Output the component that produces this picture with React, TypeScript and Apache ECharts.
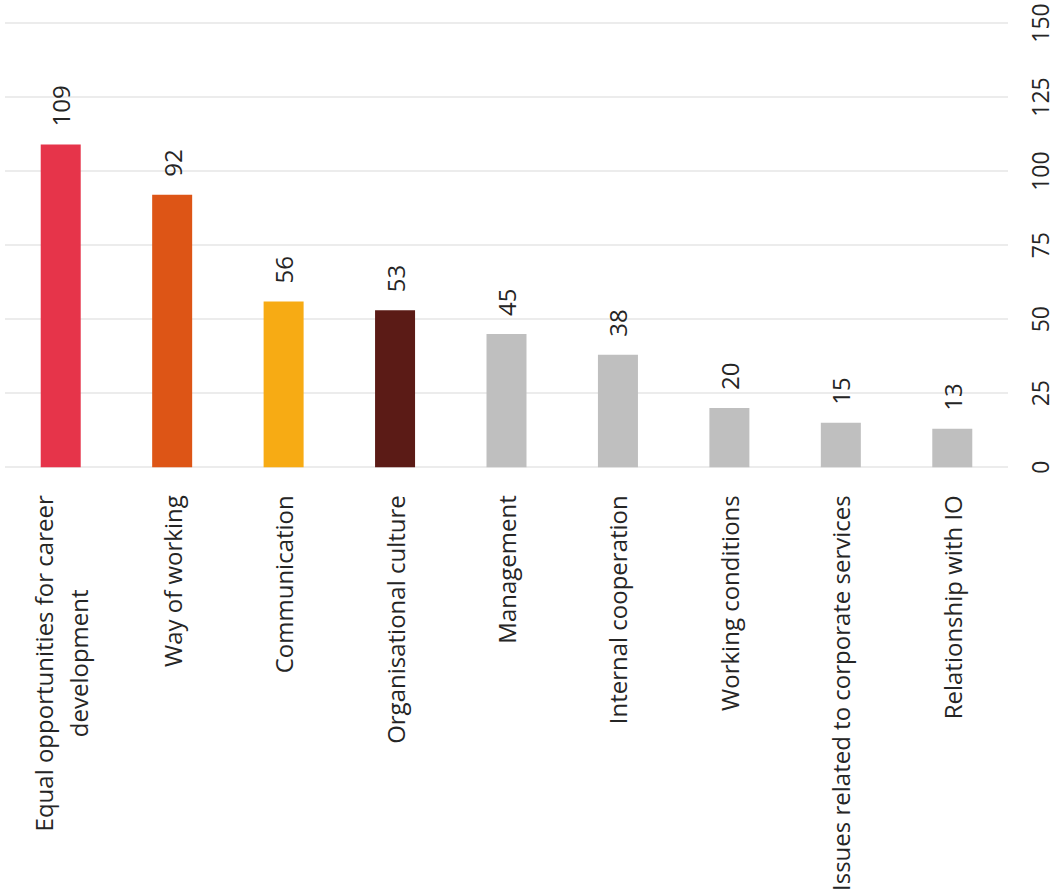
import React, { useEffect, useRef } from "react";
import * as echarts from "echarts";

const categories = [
  "Equal opportunities for career\ndevelopment",
  "Way of working",
  "Communication",
  "Organisational culture",
  "Management",
  "Internal cooperation",
  "Working conditions",
  "Issues related to corporate services",
  "Relationship with IO",
];
const values = [109, 92, 56, 53, 45, 38, 20, 15, 13];
const barColors = ["#E6344A", "#DD5516", "#F7AB14", "#5B1B16", "#BFBFBF", "#BFBFBF", "#BFBFBF", "#BFBFBF", "#BFBFBF"];
const valueTicks = [0, 25, 50, 75, 100, 125, 150];

export default function App() {
  const ref = useRef<HTMLDivElement>(null);
  useEffect(() => {
    if (!ref.current) return;
    const chart = echarts.init(ref.current, undefined, { renderer: "svg" });
    const font = "'Open Sans', 'Noto Sans', sans-serif";
    chart.setOption({
      animation: false,
      backgroundColor: "#ffffff",
      grid: { left: 5, right: 51, top: 23, bottom: 426, containLabel: false },
      xAxis: {
        type: "category",
        data: categories,
        axisLine: { show: false },
        axisTick: { show: false },
        axisLabel: {
          interval: 0,
          rotate: 90,
          margin: 28,
          color: "#252525",
          fontFamily: font,
          fontSize: 24,
          formatter: (v: string) =>
            v
              .split("\n")
              .map((l) => "{c|" + l + "}")
              .join("\n"),
          rich: {
            c: { align: "center", fontFamily: font, fontSize: 24, color: "#252525", lineHeight: 35 },
          },
        },
      },
      yAxis: {
        type: "value",
        position: "right",
        min: valueTicks[0],
        max: valueTicks[valueTicks.length - 1],
        interval: 25,
        axisLine: { show: false },
        axisTick: { show: false },
        splitLine: { show: true, lineStyle: { color: "#E6E6E6", width: 1.5 } },
        axisLabel: {
          rotate: 90,
          margin: 20,
          color: "#252525",
          fontFamily: font,
          fontSize: 23,
        },
      },
      series: [
        {
          type: "bar",
          barWidth: 40,
          data: values.map((v, i) => ({ value: v, itemStyle: { color: barColors[i] } })),
          label: {
            show: true,
            position: "top",
            rotate: 90,
            align: "left",
            verticalAlign: "middle",
            distance: 18,
            color: "#252525",
            fontFamily: font,
            fontSize: 24,
          },
        },
      ],
    });
    return () => chart.dispose();
  }, []);
  return (
    <div
      ref={ref}
      style={{ position: "absolute", left: 0, top: 0, width: 1059, height: 894 }}
    />
  );
}
